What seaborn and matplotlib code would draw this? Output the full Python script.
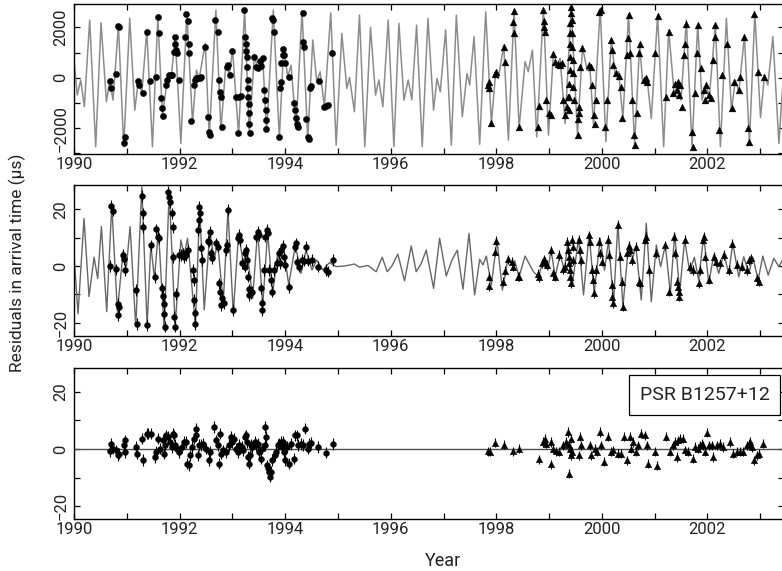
import numpy as np
import matplotlib
matplotlib.use("Agg")
import matplotlib.pyplot as plt
import seaborn as sns
from matplotlib.ticker import MultipleLocator

# values: (year, microseconds)
# top panel: model curve (turning points) and the TOAs on it
top_curve = [
    (1989.98, 1100), (1990.063, -690), (1990.127, -90), (1990.196, -1150), (1990.297, 2290),
    (1990.411, -2740), (1990.512, 2190), (1990.614, -950), (1990.677, -130), (1990.740, -890),
    (1990.841, 2090), (1990.942, -2740), (1991.056, 2360), (1991.151, -1290), (1991.221, -90),
    (1991.284, -620), (1991.379, 1870), (1991.486, -2740), (1991.588, 2430), (1991.676, -1550),
    (1991.78, 150), (1991.845, 60), (1991.916, 1630), (1992.024, -2610), (1992.138, 2580),
    (1992.245, -1790), (1992.321, 300), (1992.372, -30), (1992.486, 1370), (1992.562, -2350),
    (1992.688, 2690), (1992.783, -2080), (1992.878, 570), (1992.941, 110), (1993.004, 1100),
    (1993.118, -2280), (1993.232, 2720), (1993.321, -2210), (1993.416, 900), (1993.479, 370),
    (1993.574, 835), (1993.649, -2150), (1993.776, 2690), (1993.890, -2410), (1993.972, 1230),
    (1994.048, 40), (1994.112, 500), (1994.207, -2010), (1994.320, 2660), (1994.428, -2480),
    (1994.523, 1500), (1994.599, -160), (1994.662, 240), (1994.744, -1150), (1994.864, 2580),
    (1994.966, -2680), (1995.073, 1760), (1995.168, -420), (1995.219, 10), (1995.313, -1350),
    (1995.408, 2490), (1995.509, -2740), (1995.617, 2000), (1995.712, -690), (1995.775, -90),
    (1995.851, -1150), (1995.952, 2290), (1996.060, -2740), (1996.155, 2160), (1996.250, -890),
    (1996.332, -90), (1996.400, -880), (1996.490, 2090), (1996.597, -2740), (1996.705, 2360),
    (1996.812, -1290), (1996.876, -30), (1996.939, -560), (1997.040, 1900), (1997.148, -2680),
    (1997.243, 2490), (1997.356, -1550), (1997.445, 170), (1997.496, -290), (1997.578, 1630),
    (1997.685, -2640), (1997.799, 2620), (1997.907, -1820), (1997.989, 240), (1998.039, -30),
    (1998.141, 1300), (1998.229, -2480), (1998.337, 2690), (1998.432, -2010), (1998.545, 640),
    (1998.605, 240), (1998.684, 1100), (1998.766, -2350), (1998.893, 2760), (1998.988, -2280),
    (1999.083, 1030), (1999.146, 500), (1999.209, 770), (1999.304, -1820), (1999.418, 2820),
    (1999.538, -2280), (1999.633, 1230), (1999.72, 300), (1999.77, 500), (1999.842, -1880),
    (1999.968, 2760), (2000.076, -2540), (2000.177, 1520), (2000.253, 110), (2000.316, 240),
    (2000.398, -1620), (2000.506, 2530), (2000.620, -2680), (2000.715, 1370), (2000.771, -160),
    (2000.854, 40), (2000.936, -1620), (2001.056, 2490), (2001.170, -2740), (2001.265, 1900),
    (2001.372, -690), (2001.436, -230), (2001.499, -890), (2001.600, 2290), (2001.708, -2740),
    (2001.815, 2130), (2001.897, -890), (2001.973, -290), (2002.036, -760), (2002.150, 2130),
    (2002.245, -2740), (2002.359, 2360), (2002.454, -1290), (2002.530, -90), (2002.593, -560),
    (2002.701, 1660), (2002.795, -2610), (2002.897, 2560), (2003.005, -1580), (2003.081, 110),
    (2003.144, -290), (2003.240, 1630), (2003.353, -2610), (2003.45, 440),
]
top_circles = [
    (1990.68, -130), (1990.70, -420), (1990.79, 150), (1990.835, 2050), (1990.86, 2030),
    (1990.95, -2610), (1990.96, -2370), (1991.22, -120), (1991.24, -290), (1991.30, -620),
    (1991.38, 1830), (1991.44, -120), (1991.55, 10), (1991.59, 2400), (1991.61, 1760),
    (1991.645, -820), (1991.66, -1220), (1991.68, -1520), (1991.74, -290), (1991.77, -90),
    (1991.80, 110), (1991.835, 110), (1991.865, 110), (1991.90, 1030), (1991.91, 1360),
    (1991.92, 1600), (1991.935, 1100), (1991.955, 970), (1991.98, -90), (1992.105, 1630),
    (1992.13, 2530), (1992.155, 2270), (1992.17, 1360), (1992.18, 970), (1992.225, -1710),
    (1992.275, -290), (1992.295, -90), (1992.32, -30), (1992.35, -30), (1992.385, -30),
    (1992.415, 10), (1992.485, 1230), (1992.53, -1550), (1992.55, -2150), (1992.575, -2280),
    (1992.68, 2290), (1992.72, 1830), (1992.75, -90), (1992.765, -560), (1992.78, -760),
    (1992.80, -1950), (1992.89, 440), (1992.92, 500), (1992.95, 110), (1993.00, 1070),
    (1993.07, -760), (1993.105, -2210), (1993.135, -760), (1993.16, -720), (1993.225, 2690),
    (1993.245, 1630), (1993.26, 1340), (1993.265, 1070), (1993.28, 810), (1993.285, 440),
    (1993.29, -90), (1993.30, -420), (1993.305, -760), (1993.31, -1050), (1993.315, -1420),
    (1993.32, -1820), (1993.325, -2190), (1993.415, 830), (1993.445, 440), (1993.485, 370),
    (1993.515, 680), (1993.55, 460), (1993.58, 770), (1993.605, -490), (1993.62, -890),
    (1993.63, -1290), (1993.64, -1660), (1993.645, -2050), (1993.75, 2360), (1993.775, 2290),
    (1993.795, 1830), (1993.89, -2350), (1993.90, -420), (1993.915, -160), (1993.93, 570),
    (1993.95, 900), (1993.965, 1130), (1993.985, 900), (1994.005, 570), (1994.065, 10),
    (1994.17, -1020), (1994.19, -1290), (1994.205, -1580), (1994.22, -1840), (1994.24, -1970),
    (1994.33, 2580), (1994.345, 1430), (1994.36, 1230), (1994.40, -1620), (1994.425, -2350),
    (1994.445, -2450), (1994.47, -420), (1994.49, -330), (1994.635, -120), (1994.745, -1150),
    (1994.775, -1130), (1994.805, -1090), (1994.89, 970),
]
top_triangles = [
    (1997.85, -290), (1997.855, -420), (1997.86, -160), (1997.905, -1790), (1997.97, 150),
    (1997.995, 240), (1998.147, 1230), (1998.16, 610), (1998.318, 2230), (1998.33, 1790),
    (1998.337, 2660), (1998.432, -1970), (1998.785, -1950), (1998.80, -1130), (1998.893, 2690),
    (1998.905, 2270), (1998.912, 2030), (1998.925, 1830), (1998.943, -890), (1999.00, -1390),
    (1999.04, -1480), (1999.083, 940), (1999.115, 640), (1999.165, 540), (1999.21, 500),
    (1999.24, 570), (1999.27, -890), (1999.304, -1480), (1999.336, -1180), (1999.355, -760),
    (1999.374, -1290), (1999.38, -760), (1999.38, -230), (1999.387, 300), (1999.387, 830),
    (1999.393, 1360), (1999.40, 1760), (1999.405, 2160), (1999.41, 2560), (1999.418, 2800),
    (1999.43, 2290), (1999.437, 1760), (1999.443, 1230), (1999.45, 700), (1999.456, 170),
    (1999.462, -360), (1999.468, -890), (1999.545, -2280), (1999.557, -1620), (1999.563, -1420),
    (1999.576, -1150), (1999.59, 440), (1999.62, 1170), (1999.76, 500), (1999.797, 440),
    (1999.81, -290), (1999.848, -1480), (1999.867, -1820), (1999.886, -890), (1999.95, 2620),
    (1999.975, 2690), (2000.063, -1950), (2000.10, -890), (2000.177, 1500), (2000.19, 1100),
    (2000.22, 500), (2000.265, 170), (2000.316, 70), (2000.354, -360), (2000.39, -1580),
    (2000.474, 900), (2000.49, 1560), (2000.506, 2490), (2000.537, 970), (2000.58, -890),
    (2000.607, -2280), (2000.62, -2680), (2000.67, -1420), (2000.695, 970), (2000.715, 1360),
    (2000.79, -90), (2000.835, -30), (2000.86, -160), (2001.012, 970), (2001.056, 2450),
    (2001.214, -780), (2001.265, 1830), (2001.34, -620), (2001.39, -230), (2001.42, -490),
    (2001.442, -160), (2001.467, -690), (2001.486, -290), (2001.52, -1150), (2001.55, 900),
    (2001.58, 1360), (2001.60, 2130), (2001.708, -2150), (2001.72, -2740), (2001.758, -620),
    (2001.80, 970), (2001.82, 2090), (2001.885, 370), (2001.93, -490), (2001.948, -890),
    (2001.973, -290), (2002.02, -690), (2002.07, -820), (2002.10, 700), (2002.14, 1630),
    (2002.15, 2090), (2002.226, -2080), (2002.277, 110), (2002.37, 1360), (2002.466, -1220),
    (2002.498, -160), (2002.593, -490), (2002.625, 40), (2002.69, 1630), (2002.77, -2010),
    (2002.795, -2540), (2002.89, 2530), (2002.96, 240), (2003.07, 40),
]

# middle panel: curve after the Keplerian fit, and its TOAs
mid_curve = [
    (1989.981, 9.2), (1990.076, -16.9), (1990.190, 16.8), (1990.285, -10.8), (1990.380, 3.1),
    (1990.449, -4.4), (1990.519, 13.9), (1990.620, -16.1), (1990.715, 21.5), (1990.822, -16.0),
    (1990.930, 5.1), (1990.993, -0.2), (1991.063, 13.9), (1991.170, -21.4), (1991.284, 28.0),
    (1991.385, -21.0), (1991.455, 7.4), (1991.524, -4.4), (1991.600, 12.7), (1991.708, -22.6),
    (1991.803, 26.6), (1991.917, -21.4), (1992.024, 9.2), (1992.087, 3.9), (1992.151, 9.8),
    (1992.30, -21.0), (1992.38, 21.0), (1992.467, -15.5), (1992.574, 12.1), (1992.657, 2.1),
    (1992.720, 8.6), (1992.827, -13.2), (1992.916, 19.8), (1993.017, -16.7), (1993.118, 11.5),
    (1993.207, 0.9), (1993.270, 6.8), (1993.384, -11.4), (1993.479, 12.7), (1993.575, -14.0),
    (1993.668, 12.1), (1993.763, -9.6), (1993.858, 4.5), (1993.902, 0.9), (1993.965, 7.4),
    (1994.067, -6.7), (1994.193, 7.4), (1994.301, -2.6), (1994.396, 5.6), (1994.509, -1.4),
    (1994.598, 2.1), (1994.712, -1.4), (1994.838, 1.2), (1994.965, -0.2), (1995.123, 0.0),
    (1995.313, 0.7), (1995.408, -0.4), (1995.566, 0.2), (1995.724, -2.0), (1995.838, 3.1),
    (1995.933, -2.0), (1996.021, 0.0), (1996.135, 4.2), (1996.261, -5.2), (1996.388, 7.1),
    (1996.483, -2.0), (1996.578, 0.9), (1996.673, 5.6), (1996.812, -7.9), (1996.926, 9.8),
    (1997.052, -3.5), (1997.160, 2.1), (1997.261, 5.6), (1997.368, -8.2), (1997.482, 11.5),
    (1997.590, -10.2), (1997.685, 2.4), (1997.748, 0.4), (1997.811, 3.5), (1997.906, -6.7),
    (1998.013, 9.2), (1998.115, -8.5), (1998.222, 2.7), (1998.30, 0.5), (1998.35, 1.8),
    (1998.431, -3.8), (1998.545, 3.5), (1998.703, -2.0), (1998.798, -3.8), (1998.893, 2.1),
    (1998.975, -1.4), (1999.038, 5.6), (1999.114, -3.8), (1999.209, 3.9), (1999.291, -1.4),
    (1999.355, 8.6), (1999.443, -6.2), (1999.557, 9.8), (1999.652, -10.2), (1999.759, 11.5),
    (1999.854, -9.6), (1999.968, 9.8), (2000.050, -1.5), (2000.126, 9.2), (2000.221, -13.2),
    (2000.303, 15.1), (2000.398, -14.4), (2000.506, 7.4), (2000.582, 2.8), (2000.645, 6.8),
    (2000.746, -12.0), (2000.841, 15.1), (2000.936, -12.6), (2001.031, 7.4), (2001.113, -0.2),
    (2001.202, 7.4), (2001.297, -9.6), (2001.379, 11.5), (2001.474, -9.0), (2001.568, 9.2),
    (2001.663, -2.0), (2001.752, 3.1), (2001.834, -5.0), (2001.929, 10.9), (2002.024, -6.2),
    (2002.119, 3.9), (2002.214, -2.6), (2002.308, 4.5), (2002.403, -2.6), (2002.479, 8.0),
    (2002.593, -3.8), (2002.688, 3.3), (2002.783, -2.6), (2002.859, 3.1), (2002.960, -4.9),
    (2003.049, 3.5), (2003.150, -3.2), (2003.257, 2.7), (2003.352, -0.2), (2003.45, 3.0),
]
mid_circles = [
    (1990.68, 0.0), (1990.71, 21.2), (1990.73, 19.5), (1990.79, -1.2), (1990.83, -13.4),
    (1990.83, -17.4), (1990.85, -14.6), (1990.93, 3.9), (1990.95, 2.4), (1990.97, -1.4),
    (1991.17, -8.5), (1991.20, -20.5), (1991.28, 24.7), (1991.30, 18.6), (1991.31, 13.6),
    (1991.38, -20.8), (1991.45, 7.3), (1991.54, -4.0), (1991.56, 12.9), (1991.59, 10.4),
    (1991.61, 9.8), (1991.66, -7.9), (1991.68, -10.6), (1991.70, -13.4), (1991.71, -16.9),
    (1991.72, -21.4), (1991.78, 26.2), (1991.80, 24.5), (1991.82, 22.6), (1991.85, 18.6),
    (1991.87, 13.6), (1991.88, 3.1), (1991.90, -17.9), (1991.92, -21.4), (1991.94, -9.9),
    (1991.98, 3.9), (1992.02, 3.9), (1992.06, 4.5), (1992.09, 3.1), (1992.13, 3.9),
    (1992.16, 5.6), (1992.25, -1.4), (1992.265, -4.9), (1992.28, -12.0), (1992.29, -16.7),
    (1992.30, -20.5), (1992.355, 12.7), (1992.365, 16.2), (1992.375, 20.9), (1992.39, 18.6),
    (1992.41, 6.2), (1992.43, 2.1), (1992.53, 8.9), (1992.56, 8.6), (1992.57, 12.1),
    (1992.60, 4.5), (1992.62, 2.7), (1992.69, 8.0), (1992.72, 6.8), (1992.75, -6.1),
    (1992.76, -9.1), (1992.78, -13.8), (1992.80, -11.4), (1992.85, -13.2), (1992.88, 5.6),
    (1992.90, 7.4), (1992.92, 19.8), (1993.02, -15.5), (1993.10, 9.8), (1993.12, 10.9),
    (1993.14, 9.2), (1993.19, 0.9), (1993.23, -0.2), (1993.24, 4.5), (1993.26, 5.6),
    (1993.28, 2.1), (1993.29, -3.8), (1993.31, -8.2), (1993.32, -10.2), (1993.35, -9.6),
    (1993.38, -9.1), (1993.45, 10.4), (1993.48, 12.1), (1993.51, 10.9), (1993.54, -7.9),
    (1993.56, -13.2), (1993.57, -15.5), (1993.59, -1.4), (1993.62, 10.4), (1993.65, 12.7),
    (1993.67, 11.5), (1993.69, -1.4), (1993.73, -4.9), (1993.75, -9.1), (1993.78, -1.4),
    (1993.84, 0.9), (1993.88, 4.5), (1993.90, 0.9), (1993.93, 5.6), (1993.95, 7.1),
    (1993.98, 3.1), (1994.00, 0.4), (1994.07, -7.5), (1994.18, 6.8), (1994.21, 8.0),
    (1994.23, 1.5), (1994.27, -0.2), (1994.31, 2.1), (1994.35, 1.9), (1994.40, 6.8),
    (1994.43, 1.9), (1994.50, 2.1), (1994.62, -0.2), (1994.77, -1.4), (1994.81, -2.0),
    (1994.90, 2.1),
]
mid_triangles = [
    (1997.86, -3.8), (1997.87, -7.1), (1997.97, 5.1), (1998.00, 8.9), (1998.13, -5.5),
    (1998.16, -1.6), (1998.22, 2.4), (1998.29, 1.5), (1998.32, -0.2), (1998.41, -3.8),
    (1998.43, -3.8), (1998.79, -2.8), (1998.81, -4.0), (1998.86, 0.9), (1998.90, 2.4),
    (1998.92, 1.5), (1998.96, 0.4), (1999.03, 5.6), (1999.08, -2.6), (1999.11, -3.8),
    (1999.19, 3.9), (1999.27, -1.2), (1999.30, -0.2), (1999.34, 8.6), (1999.35, 5.6),
    (1999.37, 3.3), (1999.38, 0.9), (1999.39, -1.4), (1999.40, -3.8), (1999.42, -6.1),
    (1999.43, 9.2), (1999.45, 6.8), (1999.46, 2.1), (1999.56, 9.2), (1999.58, 5.6),
    (1999.60, 2.1), (1999.75, 10.9), (1999.78, 8.6), (1999.81, -1.4), (1999.83, -4.9),
    (1999.85, -9.6), (1999.89, -1.4), (1999.95, 8.6), (1999.97, 4.5), (2000.00, 1.5),
    (2000.11, 9.2), (2000.14, 3.9), (2000.19, -6.7), (2000.20, -10.8), (2000.21, -13.2),
    (2000.30, 14.5), (2000.35, 3.3), (2000.38, -5.5), (2000.40, -14.4), (2000.47, 4.5),
    (2000.51, 7.1), (2000.54, 5.6), (2000.57, 2.1), (2000.65, 6.8), (2000.695, -5.5),
    (2000.73, -6.1), (2000.81, 9.2), (2000.835, 10.4), (2000.885, -1.4), (2001.025, 4.5),
    (2001.20, 7.4), (2001.28, -9.1), (2001.36, 10.4), (2001.38, 4.5), (2001.42, -5.5),
    (2001.44, -7.3), (2001.455, -9.1), (2001.47, -10.8), (2001.57, 9.2), (2001.675, -0.2),
    (2001.72, -1.4), (2001.835, -6.1), (2001.865, -1.4), (2001.91, 9.2), (2001.935, 10.4),
    (2001.96, 3.3), (2002.025, -4.9), (2002.12, 3.3), (2002.16, 1.5), (2002.245, 0.9),
    (2002.31, 3.9), (2002.40, -1.4), (2002.465, 7.8), (2002.56, 0.4), (2002.66, -0.2),
    (2002.75, -1.4), (2002.795, 2.1), (2002.83, 2.7), (2002.94, -4.4), (2002.97, -5.5),
]

# bottom panel: post-fit residuals
bot_circles = [
    (1990.68, -0.8), (1990.70, 1.8), (1990.73, 0.1), (1990.79, -0.5), (1990.83, -2.2),
    (1990.85, -1.6), (1990.94, 1.3), (1990.96, 3.0), (1990.97, -1.0), (1991.17, 0.7),
    (1991.20, -1.6), (1991.28, 3.6), (1991.30, -3.9), (1991.38, 5.3), (1991.41, 5.3),
    (1991.45, 5.3), (1991.54, -2.8), (1991.55, -1.0), (1991.60, 3.6), (1991.63, 0.1),
    (1991.68, 3.0), (1991.70, -1.6), (1991.73, 1.3), (1991.75, 4.7), (1991.79, 4.2),
    (1991.82, 2.4), (1991.85, 0.7), (1991.87, 5.3), (1991.90, 4.7), (1991.92, 1.3),
    (1991.96, 0.1), (1991.99, -1.0), (1992.04, 0.7), (1992.09, 2.4), (1992.12, 2.4),
    (1992.15, -5.1), (1992.17, -5.7), (1992.19, -2.2), (1992.23, 0.7), (1992.28, 3.6),
    (1992.31, 7.1), (1992.32, 4.7), (1992.34, -2.2), (1992.37, 1.3), (1992.40, 1.3),
    (1992.44, 1.8), (1992.50, 0.1), (1992.56, -3.9), (1992.57, -1.0), (1992.66, 7.6),
    (1992.69, 3.0), (1992.72, 1.3), (1992.74, -5.1), (1992.76, 5.3), (1992.78, -1.6),
    (1992.83, -0.5), (1992.88, -1.0), (1992.94, 1.3), (1992.97, 4.2), (1993.00, 2.4),
    (1993.04, 3.6), (1993.07, 0.1), (1993.10, -1.0), (1993.13, 1.3), (1993.18, 0.7),
    (1993.21, -0.5), (1993.23, 4.2), (1993.25, 4.7), (1993.27, 2.4), (1993.29, -2.8),
    (1993.32, -5.1), (1993.33, -2.2), (1993.36, 1.3), (1993.38, 0.7), (1993.42, 2.4),
    (1993.45, 1.3), (1993.48, 1.8), (1993.51, -1.0), (1993.54, -3.4), (1993.57, 0.1),
    (1993.61, 1.3), (1993.62, 7.6), (1993.64, 4.2), (1993.65, -5.7), (1993.67, -6.8),
    (1993.69, -8.0), (1993.71, -9.7), (1993.73, -8.0), (1993.76, -3.9), (1993.80, -2.2),
    (1993.83, -1.0), (1993.86, 1.3), (1993.89, 1.8), (1993.92, 2.4), (1993.94, 0.7),
    (1993.95, 2.4), (1993.97, 1.3), (1993.98, -1.0), (1994.00, -3.9), (1994.03, 0.7),
    (1994.07, -5.1), (1994.11, 1.8), (1994.17, -3.4), (1994.19, 4.7), (1994.22, 4.7),
    (1994.24, 1.3), (1994.30, 1.8), (1994.33, 1.3), (1994.38, 7.1), (1994.43, 0.1),
    (1994.46, 1.8), (1994.49, 2.2), (1994.62, 0.7), (1994.78, -1.3), (1994.90, 1.8),
]
bot_triangles = [
    (1997.84, -0.8), (1997.89, -1.0), (1997.97, 2.2), (1998.14, 1.5), (1998.32, -0.8),
    (1998.43, 0.1), (1998.81, -3.6), (1998.89, 2.4), (1998.92, 3.6), (1998.95, 1.8),
    (1999.03, -5.4), (1999.04, 2.4), (1999.08, 0.1), (1999.13, -0.8), (1999.19, -1.0),
    (1999.27, 1.3), (1999.32, 2.4), (1999.36, 5.9), (1999.37, -8.6), (1999.38, 1.3),
    (1999.39, 0.1), (1999.41, -2.2), (1999.42, 3.6), (1999.44, -1.0), (1999.57, -2.2),
    (1999.58, 4.2), (1999.61, 1.3), (1999.77, 1.3), (1999.80, -2.2), (1999.87, 0.1),
    (1999.90, -1.0), (1999.96, 5.9), (1999.98, 1.3), (2000.04, -4.5), (2000.12, 4.2),
    (2000.18, -1.0), (2000.22, -0.5), (2000.31, -1.6), (2000.37, -1.6), (2000.42, 4.2),
    (2000.47, -3.9), (2000.53, 4.2), (2000.56, 0.1), (2000.59, 2.4), (2000.65, -1.0),
    (2000.69, 1.3), (2000.75, 5.3), (2000.82, 4.7), (2000.85, 1.3), (2000.88, -5.1),
    (2001.01, -1.0), (2001.05, -5.9), (2001.21, 4.2), (2001.29, -1.0), (2001.34, 1.3),
    (2001.39, 2.4), (2001.42, -2.8), (2001.45, 3.0), (2001.48, 3.6), (2001.53, 3.6),
    (2001.58, -0.5), (2001.64, -1.0), (2001.72, -3.4), (2001.77, 0.7), (2001.83, 0.1),
    (2001.86, 1.3), (2001.89, 1.8), (2001.92, 1.3), (2001.95, -1.0), (2002.00, 5.7),
    (2002.02, 1.3), (2002.08, 1.3), (2002.11, -2.8), (2002.18, 1.3), (2002.23, 1.8),
    (2002.30, 0.7), (2002.43, 2.4), (2002.49, -1.6), (2002.56, -1.0), (2002.62, -1.0),
    (2002.68, -1.0), (2002.75, 1.3), (2002.78, 1.8), (2002.81, 2.4), (2002.84, 0.7),
    (2002.88, -3.9), (2002.94, -2.2), (2002.97, -1.6), (2003.06, 1.8),
]
err_circle = 2.0     # typical 1-sigma bar, microseconds
err_triangle = 1.6
pulsar_name = "PSR B1257+12"


sns.set_style("ticks")
plt.rcParams['font.family'] = ['Roboto', 'DejaVu Sans']
plt.rcParams['axes.unicode_minus'] = True

W, H = 782, 571
fig = plt.figure(figsize=(W / 100, H / 100), dpi=100)


def add_box(top, bottom, left=74, right=784):
    return fig.add_axes([left / W, 1 - bottom / H, (right - left) / W, (bottom - top) / H])


def style(ax, ylim, major, minor):
    ax.set_xlim(1990, 2003.45)
    ax.set_ylim(*ylim)
    ax.xaxis.set_major_locator(MultipleLocator(2))
    ax.xaxis.set_minor_locator(MultipleLocator(1))
    ax.yaxis.set_major_locator(MultipleLocator(major))
    ax.yaxis.set_minor_locator(MultipleLocator(minor))
    ax.tick_params(which='both', direction='in', top=True, right=True,
                   length=4.5, width=0.9, color='black', labelsize=12,
                   labelcolor='#222222')
    ax.tick_params(axis='x', pad=2.5)
    ax.tick_params(axis='y', pad=4)
    for lab in ax.get_yticklabels():
        lab.set_rotation(90)
        lab.set_va('center')
    for s in ax.spines.values():
        s.set_linewidth(1.0)
        s.set_color('black')
    ax.set_xlabel('')
    ax.set_ylabel('')


def curve(ax, pts, color, lw):
    t, v = np.array(pts).T
    sns.lineplot(x=t, y=v, ax=ax, color=color, lw=lw, estimator=None, sort=False, zorder=2)


def marks(ax, pts, marker, size, err=None):
    t, v = np.array(pts).T
    if err is not None:
        ax.errorbar(t, v, yerr=err, fmt='none', ecolor='black', elinewidth=0.8,
                    capsize=0, zorder=3)
    sns.scatterplot(x=t, y=v, ax=ax, marker=marker, s=size, color='black',
                    edgecolor='black', linewidth=0.3, zorder=4, legend=False)


ax1 = add_box(4, 154)
curve(ax1, top_curve, '0.55', 1.1)
marks(ax1, top_circles, 'o', 20)
marks(ax1, top_triangles, '^', 24)
style(ax1, (-3030, 2930), 2000, 1000)

ax2 = add_box(185, 336)
curve(ax2, mid_curve, '0.4', 1.0)
marks(ax2, mid_circles, 'o', 18, err_circle)
marks(ax2, mid_triangles, '^', 22, err_triangle)
style(ax2, (-24.7, 28.6), 20, 10)

ax3 = add_box(368, 519)
ax3.axhline(0, color='0.3', lw=1.0, zorder=1)
marks(ax3, bot_circles, 'o', 18, err_circle)
marks(ax3, bot_triangles, '^', 22, err_triangle)
style(ax3, (-24.5, 28.3), 20, 10)
ax3.text(0.888, 0.821, pulsar_name, transform=ax3.transAxes, ha='center', va='center',
         fontsize=14, color='#222222',
         bbox=dict(boxstyle='square,pad=0.55', fc='white', ec='black', lw=0.9))

fig.text(17 / W, 1 - 263 / H, "Residuals in arrival time (μs)", rotation=90,
         ha='center', va='center', fontsize=12.5, color='#222222')
fig.text(443 / W, 1 - 561 / H, "Year", ha='center', va='center', fontsize=13,
         color='#222222')

fig.savefig("out.png", dpi=100)
